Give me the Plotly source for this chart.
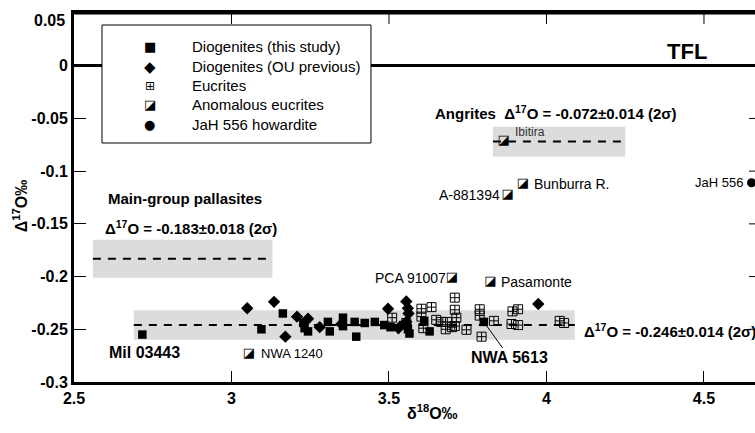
import plotly.graph_objects as go

# Diogenites (this study) - filled squares
dio_x = [2.717, 3.095, 3.163, 3.232, 3.243, 3.228, 3.306, 3.312, 3.354, 3.354, 3.391, 3.396,
         3.423, 3.455, 3.485, 3.505, 3.545, 3.560, 3.565, 3.612, 3.629, 3.801]
dio_y = [-0.255, -0.250, -0.235, -0.249, -0.252, -0.244, -0.243, -0.252, -0.239, -0.247, -0.243, -0.257,
         -0.244, -0.243, -0.246, -0.248, -0.246, -0.250, -0.254, -0.242, -0.252, -0.243]

# Diogenites (OU previous) - diamonds
ou_x = [3.050, 3.135, 3.171, 3.208, 3.243, 3.280, 3.349, 3.497, 3.555, 3.560, 3.562, 3.555, 3.530, 3.974]
ou_y = [-0.230, -0.224, -0.257, -0.238, -0.240, -0.248, -0.245, -0.2305, -0.2236, -0.230, -0.235, -0.243,
        -0.249, -0.226]

# Eucrites
euc_x = [3.510, 3.555, 3.603, 3.635, 3.603, 3.609, 3.650, 3.665, 3.685, 3.680, 3.700, 3.709, 3.709,
         3.714, 3.709, 3.746, 3.788, 3.788, 3.794, 3.833, 3.892, 3.910, 3.889, 3.910, 4.042, 4.056]
euc_y = [-0.239, -0.244, -0.2305, -0.229, -0.238, -0.249, -0.241, -0.243, -0.243, -0.250, -0.248, -0.220,
         -0.2315, -0.239, -0.247, -0.2505, -0.231, -0.237, -0.257, -0.242, -0.233, -0.231, -0.245, -0.246,
         -0.242, -0.244]

# Anomalous eucrites
anom_names = ['Ibitira', 'Bunburra R.', 'A-881394', 'PCA 91007', 'Pasamonte', 'NWA 1240']
anom_x = [3.864, 3.925, 3.877, 3.700, 3.822, 3.055]
anom_y = [-0.071, -0.112, -0.122, -0.201, -0.205, -0.273]

# JaH 556 howardite
jah_x = [4.651]
jah_y = [-0.111]

# reference fields: mean, 2 sigma, x extent of the grey band
field_mean = [-0.072, -0.183, -0.246]
field_2sig = [0.014, 0.018, 0.014]
field_x0 = [3.83, 2.56, 2.69]
field_x1 = [4.25, 3.13, 4.09]

x_ticks = [2.5, 3, 3.5, 4, 4.5]
x_ticktext = ['2.5', '3', '3.5', '4', '4.5']
y_ticks = [0.05, 0, -0.05, -0.1, -0.15, -0.2, -0.25, -0.3]
# top label is drawn a little lower as an annotation
y_ticktext = ['', '0', '-0.05', '-0.1', '-0.15', '-0.2', '-0.25', '-0.3']

FONT = 'Liberation Sans, Arial, sans-serif'
GLYPH = 'DejaVu Sans'

fig = go.Figure()

fig.add_trace(go.Scatter(x=euc_x, y=euc_y, mode='markers', name='Eucrites',
                         marker=dict(symbol='square-cross-open', size=9, color='black',
                                     line=dict(width=1, color='black'))))
fig.add_trace(go.Scatter(x=ou_x, y=ou_y, mode='markers', name='Diogenites (OU previous)',
                         marker=dict(symbol='diamond', size=9.5, color='black')))
fig.add_trace(go.Scatter(x=dio_x, y=dio_y, mode='markers', name='Diogenites (this study)',
                         marker=dict(symbol='square', size=8.5, color='black')))
fig.add_trace(go.Scatter(x=anom_x, y=anom_y, mode='text', name='Anomalous eucrites',
                         text=['\u25ea'] * len(anom_x),
                         textfont=dict(family=GLYPH, size=13, color='black')))
fig.add_trace(go.Scatter(x=jah_x, y=jah_y, mode='markers', name='JaH 556 howardite',
                         marker=dict(symbol='circle', size=9, color='black')))

# grey 2 sigma bands and dashed means
for m, s, x0, x1 in zip(field_mean, field_2sig, field_x0, field_x1):
    fig.add_shape(type='rect', xref='x', yref='y', x0=x0, x1=x1, y0=m - s, y1=m + s,
                  fillcolor='#dcdcdc', line=dict(width=0), layer='below')
    fig.add_shape(type='line', xref='x', yref='y', x0=x0, x1=x1, y0=m, y1=m,
                  line=dict(color='black', width=2, dash='8px,7px'), layer='below')

# top frame line with inward ticks, and inward ticks on the right edge
fig.add_shape(type='line', xref='paper', yref='y', x0=0, x1=1, y0=y_ticks[0], y1=y_ticks[0],
              line=dict(color='black', width=3))
for xt in x_ticks[1:]:
    fig.add_shape(type='line', xref='x', yref='paper', x0=xt, x1=xt, y0=1, y1=1 - 11 / 369,
                  line=dict(color='black', width=1))
for yt in y_ticks[1:-1]:
    fig.add_shape(type='line', xref='paper', yref='y', x0=1, x1=1 - 6 / 681, y0=yt, y1=yt,
                  line=dict(color='black', width=1))

# point labels
small = dict(family=FONT, size=14, color='black')
lab = [
    ('Ibitira', 3.893, -0.0626, 'left', dict(family=FONT, size=12, color='#333333')),
    ('Bunburra R.', 3.953, -0.112, 'left', small),
    ('A-881394', 3.858, -0.1224, 'right', small),
    ('PCA 91007', 3.686, -0.201, 'right', small),
    ('Pasamonte', 3.848, -0.205, 'left', small),
    ('NWA 1240', 3.086, -0.273, 'left', dict(family=FONT, size=13, color='black')),
    ('JaH 556', 4.631, -0.111, 'right', dict(family=FONT, size=13, color='black')),
]
for t, x, y, anc, f in lab:
    fig.add_annotation(x=x, y=y, text=t, showarrow=False, xanchor=anc, yanchor='middle', font=f)

bold15 = dict(family=FONT, size=15, color='black', weight='bold')
bold16 = dict(family=FONT, size=16, color='black', weight='bold')
fig.add_annotation(x=4.446, y=0.0133, text='TFL', showarrow=False,
                   font=dict(family=FONT, size=22, color='black', weight='bold'))
fig.add_annotation(x=3.639, y=-0.0446, text='Angrites  \u0394<sup>17</sup>O = -0.072\u00b10.014 (2\u03c3)',
                   showarrow=False, xanchor='left', font=bold15)
fig.add_annotation(x=2.600, y=-0.1262, text='Main-group pallasites', showarrow=False,
                   xanchor='left', font=bold15)
fig.add_annotation(x=2.591, y=-0.1537, text='\u0394<sup>17</sup>O = -0.183\u00b10.018 (2\u03c3)',
                   showarrow=False, xanchor='left', font=bold15)
fig.add_annotation(x=4.112, y=-0.2514, text='\u0394<sup>17</sup>O = -0.246\u00b10.014 (2\u03c3)',
                   showarrow=False, xanchor='left', font=bold15)
fig.add_annotation(x=2.724, y=-0.2723, text='Mil 03443', showarrow=False, font=bold16)
fig.add_annotation(x=3.801, y=-0.243, text='NWA 5613', showarrow=True, arrowhead=0,
                   arrowwidth=1, arrowcolor='black', ax=26, ay=36, standoff=4, font=bold16)

# legend box drawn by hand
fig.add_shape(type='rect', xref='paper', yref='paper', x0=0.0411, x1=0.4361, y0=0.6477, y1=0.9675,
              fillcolor='white', line=dict(color='black', width=1), layer='above')
leg_sym = ['\u25a0', '\u25c6', '\u229e', '\u25ea', '\u25cf']
leg_size = [13, 15, 12, 13, 13]
leg_txt = ['Diogenites (this study)', 'Diogenites (OU previous)', 'Eucrites',
           'Anomalous eucrites', 'JaH 556 howardite']
leg_y = [0.9079, 0.8537, 0.8022, 0.7507, 0.6965]
for s, sz, t, y in zip(leg_sym, leg_size, leg_txt, leg_y):
    fig.add_annotation(xref='paper', yref='paper', x=0.1116, y=y, text=s, showarrow=False,
                       xanchor='center', yanchor='middle',
                       font=dict(family=GLYPH, size=sz, color='black'))
    fig.add_annotation(xref='paper', yref='paper', x=0.1703, y=y, text=t, showarrow=False,
                       xanchor='left', yanchor='middle', font=dict(family=FONT, size=15, color='black'))

# top y label, sits just under the frame
fig.add_annotation(xref='paper', yref='paper', x=-0.011, y=0.981, text='0.05', showarrow=False,
                   xanchor='right', yanchor='middle', font=bold16)

# axis titles
fig.add_annotation(xref='paper', yref='paper', x=0.5257, y=-0.0813, text='\u03b4<sup>18</sup>O\u2030',
                   showarrow=False, xanchor='center', yanchor='middle', font=bold16)
fig.add_annotation(xref='paper', yref='paper', x=-0.079, y=0.477, text='\u0394<sup>17</sup>O\u2030',
                   showarrow=False, textangle=-90, xanchor='center', yanchor='middle', font=bold16)

fig.update_layout(
    width=755, height=433,
    margin=dict(l=74, r=0, t=13, b=51),
    paper_bgcolor='white', plot_bgcolor='white',
    showlegend=False,
    font=dict(family=FONT, color='black'),
    xaxis=dict(range=[2.5, 4.662], tickvals=x_ticks, ticktext=x_ticktext,
               showgrid=False, zeroline=False, showline=True, linewidth=3, linecolor='black',
               mirror=True, ticks='inside', ticklen=11, tickwidth=1, tickcolor='black',
               tickfont=bold16),
    yaxis=dict(range=[-0.3, 0.05], tickvals=y_ticks, ticktext=y_ticktext,
               showgrid=False, zeroline=True, zerolinecolor='black', zerolinewidth=3,
               showline=True, linewidth=3, linecolor='black',
               ticks='inside', ticklen=12, tickwidth=1, tickcolor='black',
               tickfont=bold16),
)

# drop the default 8px body margin so the figure fills the window
fig.write_html("out.html", config={'displayModeBar': False},
               post_script="document.body.style.margin = '0';")
